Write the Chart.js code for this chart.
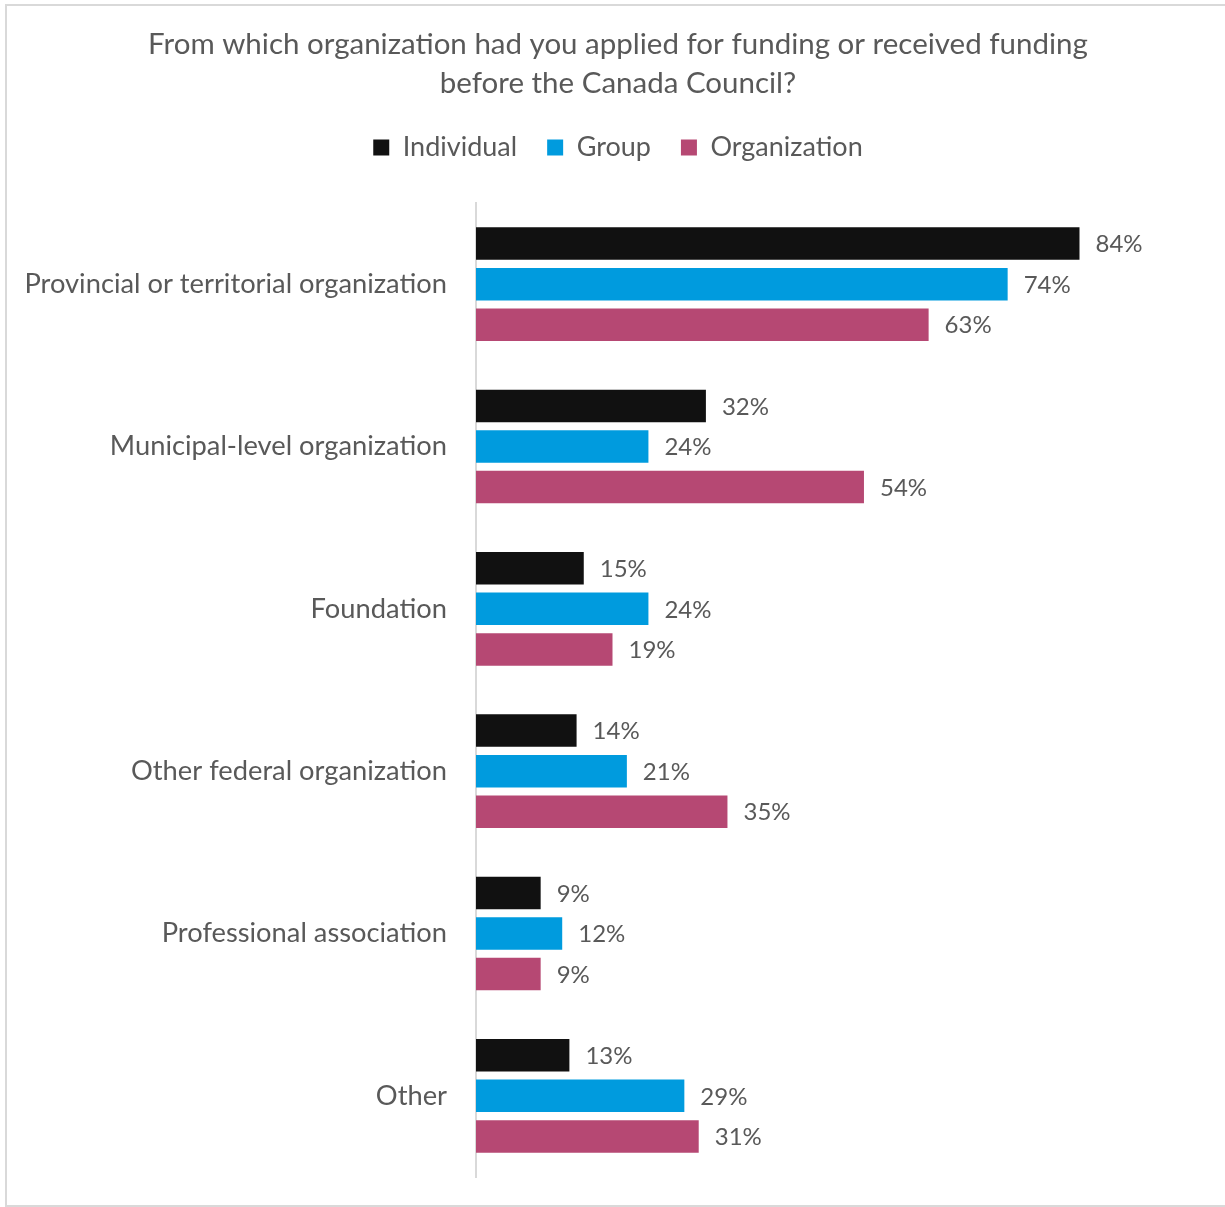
<!DOCTYPE html>
<html>
<head>
<meta charset="utf-8">
<script src="https://cdn.jsdelivr.net/npm/chart.js@4.4.0/dist/chart.umd.min.js"></script>
<style>
  html, body { margin: 0; padding: 0; background: #fff; }
  #wrap { position: relative; width: 1225px; height: 1207px; overflow: hidden; }
  #frame { position: absolute; left: 5px; top: 4px; width: 1240px; height: 1203px; border: 2px solid #d9d9d9; box-sizing: border-box; }
  #myChart { position: absolute; left: 0; top: 0; }
</style>
</head>
<body>
<div id="wrap">
  <div id="frame"></div>
  <canvas id="myChart" width="1225" height="1207"></canvas>
</div>
<script>
// funding sources, share of applicants (%)
const categories = [
  'Provincial or territorial organization',
  'Municipal-level organization',
  'Foundation',
  'Other federal organization',
  'Professional association',
  'Other'
];
const individual = [84, 32, 15, 14, 9, 13];
const group = [74, 24, 24, 21, 12, 29];
const organization = [63, 54, 19, 35, 9, 31];
const seriesNames = ['Individual', 'Group', 'Organization'];
const titleLines = [
  'From which organization had you applied for funding or received funding',
  'before the Canada Council?'
];

const textColor = '#595959';
const fontFamily = 'Lato, "Open Sans", sans-serif';

// value labels at the end of each bar
const valueLabels = {
  id: 'valueLabels',
  afterDatasetsDraw(chart) {
    const ctx = chart.ctx;
    ctx.save();
    ctx.font = '24px ' + fontFamily;
    ctx.fillStyle = textColor;
    ctx.textAlign = 'left';
    ctx.textBaseline = 'middle';
    chart.data.datasets.forEach((ds, i) => {
      chart.getDatasetMeta(i).data.forEach((bar, j) => {
        ctx.fillText(ds.data[j] + '%', bar.x + 16, bar.y + 1);
      });
    });
    ctx.restore();
  }
};

// extra room under the legend
const legendGap = {
  id: 'legendGap',
  beforeInit(chart) {
    const fit = chart.legend.fit;
    chart.legend.fit = function () {
      fit.bind(chart.legend)();
      this.height += 32;
    };
  }
};

const ctx = document.getElementById('myChart').getContext('2d');
const myChart = new Chart(ctx, {
  type: 'bar',
  data: {
    labels: categories,
    datasets: [
      { label: seriesNames[0], data: individual, backgroundColor: '#111111' },
      { label: seriesNames[1], data: group, backgroundColor: '#009bde' },
      { label: seriesNames[2], data: organization, backgroundColor: '#b64873' }
    ]
  },
  options: {
    indexAxis: 'y',
    responsive: false,
    animation: false,
    categoryPercentage: 0.75,
    barPercentage: 0.8,
    layout: { padding: { left: 20, right: 9, top: 0, bottom: 30 } },
    plugins: {
      tooltip: { enabled: false },
      title: {
        display: true,
        text: titleLines,
        color: textColor,
        font: { family: fontFamily, size: 29.5, weight: 'normal', lineHeight: 39 / 29.5 },
        padding: { top: 25, bottom: 1 }
      },
      legend: {
        display: true,
        labels: {
          color: textColor,
          boxWidth: 16,
          boxHeight: 16,
          padding: 30,
          font: { family: fontFamily, size: 27 }
        }
      }
    },
    scales: {
      x: { display: false, min: 0, max: 103 },
      y: {
        grid: { display: false, drawTicks: false },
        border: { display: true, color: '#d9d9d9', width: 2 },
        ticks: {
          color: textColor,
          padding: 29,
          font: { family: fontFamily, size: 27.3 }
        },
        afterFit(scale) {
          scale.width = 456;
          scale.paddingTop = 0;
          scale.paddingBottom = 0;
        }
      }
    }
  },
  plugins: [valueLabels, legendGap]
});
</script>
</body>
</html>
